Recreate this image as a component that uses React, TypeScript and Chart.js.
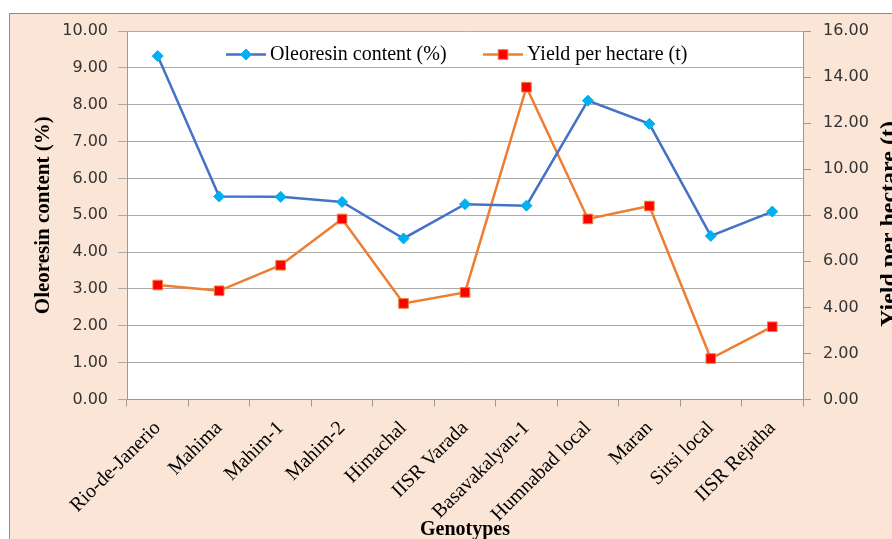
import React, { useEffect, useRef } from "react";
import { Chart, registerables } from "chart.js";

Chart.register(...registerables);

const categories = [
  "Rio-de-Janerio",
  "Mahima",
  "Mahim-1",
  "Mahim-2",
  "Himachal",
  "IISR Varada",
  "Basavakalyan-1",
  "Humnabad local",
  "Maran",
  "Sirsi local",
  "IISR Rejatha",
];
const oleoresin = [9.32, 5.51, 5.5, 5.36, 4.37, 5.3, 5.26, 8.11, 7.48, 4.44, 5.1];
const yieldPerHa = [4.97, 4.72, 5.83, 7.84, 4.17, 4.65, 13.56, 7.84, 8.4, 1.78, 3.16];

const leftTitle = "Oleoresin content (%)";
const rightTitle = "Yield per hectare (t)";
const xTitle = "Genotypes";

const BLUE = "#4472C4";
const BLUE_MARK = "#00B0F0";
const ORANGE = "#ED7D31";
const RED = "#FF0000";
const GRID = "#ababab";
const AXIS = "#9a9a9a";
const SERIF = "'Liberation Serif', 'Times New Roman', serif";
const SANS = "'DejaVu Sans', sans-serif";

const plotBg = {
  id: "plotBg",
  beforeDraw(chart: any) {
    const { ctx, chartArea } = chart;
    ctx.save();
    ctx.fillStyle = "#ffffff";
    ctx.fillRect(chartArea.left, chartArea.top, chartArea.right - chartArea.left, chartArea.bottom - chartArea.top);
    ctx.restore();
  },
};

function drawDiamond(ctx: CanvasRenderingContext2D, x: number, y: number, r: number) {
  ctx.beginPath();
  ctx.moveTo(x, y - r);
  ctx.lineTo(x + r, y);
  ctx.lineTo(x, y + r);
  ctx.lineTo(x - r, y);
  ctx.closePath();
}

const overlay = {
  id: "overlay",
  afterDraw(chart: any) {
    const { ctx } = chart;
    ctx.save();
    // legend
    const ly = 54.5;
    const items = chart.data.datasets.map((ds: any, i: number) => ({ ds, x: i === 0 ? 226 : 483 }));
    items.forEach(({ ds, x }: any, i: number) => {
      ctx.strokeStyle = ds.borderColor;
      ctx.lineWidth = ds.borderWidth;
      ctx.beginPath();
      ctx.moveTo(x, ly);
      ctx.lineTo(x + 40, ly);
      ctx.stroke();
      ctx.fillStyle = ds.pointBackgroundColor;
      ctx.strokeStyle = ds.pointBorderColor;
      ctx.lineWidth = 1;
      if (i === 0) {
        drawDiamond(ctx, x + 20, ly, ds.pointRadius);
        ctx.fill();
        ctx.stroke();
      } else {
        const s = ds.pointRadius * Math.SQRT1_2;
        ctx.fillRect(x + 20 - s, ly - s, 2 * s, 2 * s);
        ctx.strokeRect(x + 20 - s, ly - s, 2 * s, 2 * s);
      }
      ctx.fillStyle = "#000";
      ctx.font = `20px ${SERIF}`;
      ctx.textAlign = "left";
      ctx.textBaseline = "middle";
      ctx.fillText(ds.label, x + 44, ly);
    });
    // right axis title (reads bottom to top)
    ctx.translate(890, 224);
    ctx.rotate(-Math.PI / 2);
    ctx.font = `bold 24px ${SERIF}`;
    ctx.textAlign = "center";
    ctx.textBaseline = "middle";
    ctx.fillStyle = "#000";
    ctx.fillText(rightTitle, 0, 0);
    ctx.restore();
  },
};

export default function App() {
  const ref = useRef<HTMLCanvasElement | null>(null);

  useEffect(() => {
    if (!ref.current) return;
    const chart = new Chart(ref.current, {
      type: "line",
      data: {
        labels: categories,
        datasets: [
          {
            label: "Oleoresin content (%)",
            data: oleoresin,
            yAxisID: "y",
            borderColor: BLUE,
            borderWidth: 2.5,
            pointStyle: "rectRot",
            pointRadius: 5.5,
            pointHoverRadius: 5.5,
            pointBackgroundColor: BLUE_MARK,
            pointBorderColor: BLUE_MARK,
            pointBorderWidth: 1,
            tension: 0,
          },
          {
            label: "Yield per hectare (t)",
            data: yieldPerHa,
            yAxisID: "y1",
            borderColor: ORANGE,
            borderWidth: 2.5,
            pointStyle: "rect",
            pointRadius: 6.8,
            pointHoverRadius: 6.8,
            pointBackgroundColor: RED,
            pointBorderColor: ORANGE,
            pointBorderWidth: 1,
            tension: 0,
          },
        ],
      },
      options: {
        responsive: false,
        animation: false,
        devicePixelRatio: 1,
        layout: { padding: { left: 0, right: 0, top: 31, bottom: 0 } },
        plugins: {
          legend: { display: false },
          tooltip: { enabled: false },
        },
        scales: {
          x: {
            type: "category",
            offset: true,
            grid: {
              offset: true,
              drawOnChartArea: false,
              drawTicks: true,
              tickLength: 7,
              color: AXIS,
            },
            border: { color: AXIS },
            ticks: {
              autoSkip: false,
              maxRotation: 45,
              minRotation: 45,
              padding: 10,
              color: "#000",
              font: { family: SERIF, size: 20 },
            },
            title: {
              display: true,
              text: xTitle,
              color: "#000",
              font: { family: SERIF, size: 20, weight: "bold" },
              padding: { top: 0, bottom: -3 },
            },
            afterFit(scale: any) {
              scale.height = 139.5;
            },
          },
          y: {
            position: "left",
            min: 0,
            max: 10,
            ticks: {
              stepSize: 1,
              padding: 10,
              color: "#333",
              font: { family: SANS, size: 16 },
              callback: (v: any) => Number(v).toFixed(2),
            },
            grid: { color: GRID, tickLength: 9, drawTicks: true },
            border: { color: AXIS },
            title: {
              display: true,
              text: leftTitle,
              color: "#000",
              font: { family: SERIF, size: 21, weight: "bold" },
              padding: { top: 30.5, bottom: 0 },
            },
            afterFit(scale: any) {
              scale.width = 127;
            },
          },
          y1: {
            position: "right",
            min: 0,
            max: 16,
            ticks: {
              stepSize: 2,
              padding: 12,
              color: "#333",
              font: { family: SANS, size: 16 },
              callback: (v: any) => Number(v).toFixed(2),
            },
            grid: { drawOnChartArea: false, color: AXIS, tickLength: 8, drawTicks: true },
            border: { color: AXIS },
            afterFit(scale: any) {
              scale.width = 89;
            },
          },
        },
      },
      plugins: [plotBg, overlay],
    } as any);
    return () => chart.destroy();
  }, []);

  return (
    <div
      style={{
        position: "fixed",
        left: 0,
        top: 0,
        width: 892,
        height: 539,
        overflow: "hidden",
        background: "#ffffff",
      }}
    >
      <div
        style={{
          position: "absolute",
          left: 9,
          top: 13,
          width: 920,
          height: 560,
          background: "#FBE5D6",
          border: "1px solid #8c8c8c",
        }}
      />
      <canvas
        ref={ref}
        width={892}
        height={539}
        style={{ position: "absolute", left: 0, top: 0, width: 892, height: 539 }}
      />
    </div>
  );
}
